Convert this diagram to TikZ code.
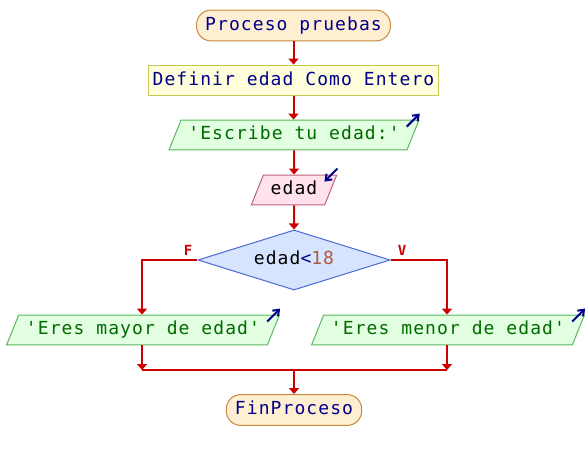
\documentclass[tikz,border=0pt]{standalone}
\usepackage{fontspec}
\usepackage{tikz}
\usetikzlibrary{shapes.geometric, arrows.meta, positioning, calc}

\newfontfamily\psmono[LetterSpace=6]{DejaVu Sans Mono}

\definecolor{termfill}{HTML}{FFEFD2}
\definecolor{termline}{HTML}{C8893A}
\definecolor{deffill}{HTML}{FFFFDC}
\definecolor{defline}{HTML}{C8C855}
\definecolor{outfill}{HTML}{E2FFE2}
\definecolor{outline}{HTML}{5CB85C}
\definecolor{infill}{HTML}{FFE2EE}
\definecolor{inline}{HTML}{C0607E}
\definecolor{condfill}{HTML}{D6E4FF}
\definecolor{condline}{HTML}{4A6AD0}
\definecolor{flowred}{HTML}{CC0000}
\definecolor{navytext}{HTML}{000088}
\definecolor{greentext}{HTML}{006A00}
\definecolor{numtext}{HTML}{B05A3C}

\tikzset{
  base/.style={font=\psmono\fontsize{13.5pt}{16pt}\selectfont, line width=0.75pt, text height=10pt, text depth=3pt},
  terminal/.style={base, rectangle, rounded corners=11pt, draw=termline, fill=termfill, text=navytext, inner xsep=6.5pt, inner ysep=5.1pt},
  defbox/.style={base, rectangle, draw=defline, fill=deffill, text=navytext, inner xsep=3pt, inner ysep=5.1pt},
  outbox/.style={base, trapezium, trapezium left angle=68, trapezium right angle=112, draw=outline, fill=outfill, text=greentext, inner xsep=5.5pt, inner ysep=4.7pt},
  inbox/.style={base, trapezium, trapezium left angle=68, trapezium right angle=112, draw=inline, fill=infill, text=black, inner xsep=5.5pt, inner ysep=4.7pt},
  condbox/.style={base, diamond, aspect=3.2, draw=condline, fill=condfill, inner xsep=2pt, inner ysep=6pt},
  flow/.style={draw=flowred, line width=1.5pt, -{Triangle[width=7.5pt,length=4.5pt]}},
  joinline/.style={draw=flowred, line width=1.5pt},
  iconarrow/.style={draw=navytext, line width=1.5pt, -{Straight Barb[width=6pt,length=4pt]}},
  branchlabel/.style={font=\psmono\bfseries\fontsize{10.5pt}{12pt}\selectfont, text=flowred, inner sep=0pt}
}

\begin{document}
\begin{tikzpicture}[x=0.75pt, y=-0.75pt]
\useasboundingbox (0,0) rectangle (588,460);

% Main column
\node[terminal] (start) at (293.5,25.5) {Proceso pruebas};
\node[defbox] (define) at (293.5,80.5) {Definir edad Como Entero};
\node[outbox] (prompt) at (294,135) {'Escribe tu edad:'};
\node[inbox] (readage) at (294,190) {edad};
\node[condbox] (cond) at (294,260) {edad{\color{navytext}<}{\color{numtext}18}};

% Branches
\node[outbox] (older) at (143,330) {'Eres mayor de edad'};
\node[outbox] (younger) at (448,330) {'Eres menor de edad'};
\node[terminal] (finish) at (294,410) {FinProceso};

\coordinate (leftturn) at (142,260);
\coordinate (rightturn) at (447,260);
\coordinate (leftjoin) at (142,370);
\coordinate (rightjoin) at (447,370);
\coordinate (midjoin) at (294,370);

\node[branchlabel] (flabel) at (188,250) {F};
\node[branchlabel] (vlabel) at (402,250) {V};

% Connectors
\draw[flow] (start) -- (start |- define.north);
\draw[flow] (define) -- (define |- prompt.north);
\draw[flow] (prompt) -- (readage);
\draw[flow] (readage) -- (cond);
\draw[flow] (cond.west) -- (leftturn) -- (older.north -| leftturn);
\draw[flow] (cond.east) -- (rightturn) -- (younger.north -| rightturn);
\draw[flow] (older.south -| leftjoin) -- (leftjoin);
\draw[flow] (younger.south -| rightjoin) -- (rightjoin);
\draw[joinline] (leftjoin) -- (rightjoin);
\draw[flow] (midjoin) -- (finish);

% In/out icons
\draw[iconarrow] ($(prompt.top right corner)+(-13,7)$) -- ++(13,-13);
\draw[iconarrow] ($(older.top right corner)+(-13,7)$) -- ++(13,-13);
\draw[iconarrow] ($(younger.top right corner)+(-13,7)$) -- ++(13,-13);
\draw[iconarrow] ($(readage.top right corner)+(0,-6)$) -- ++(-13,13);
\end{tikzpicture}
\end{document}
